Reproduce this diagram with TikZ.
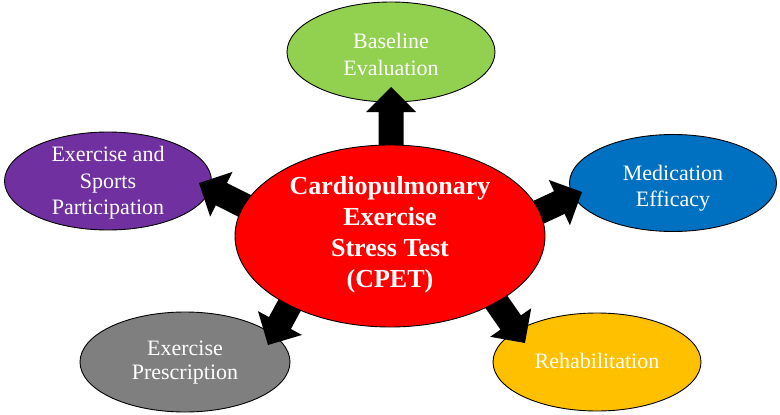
\documentclass[tikz,border=0pt]{standalone}
\usepackage{fontspec}
\setmainfont{Liberation Serif}
\usetikzlibrary{shapes.geometric,calc}
\definecolor{cgreen}{HTML}{92D050}
\definecolor{cpurple}{HTML}{7030A0}
\definecolor{cblue}{HTML}{0070C0}
\definecolor{cgray}{HTML}{7F7F7F}
\definecolor{cyellow}{HTML}{FFC000}
\definecolor{cred}{HTML}{FF0000}
\newcommand\cpetarrow[3]{%
  \path ($(#2)!25pt!(#1)$) coordinate (#3b);
  \fill[black] ($(#1)!12.5pt!90:(#2)$) -- ($(#3b)!12.5pt!90:(#2)$) -- ($(#3b)!25pt!90:(#2)$) -- (#2)
    -- ($(#3b)!25pt!-90:(#2)$) -- ($(#3b)!12.5pt!-90:(#2)$) -- ($(#1)!12.5pt!-90:(#2)$) -- cycle;}
\begin{document}
\begin{tikzpicture}[x=1pt,y=-1pt,
  bubble/.style={ellipse,draw=black,line width=0.9pt,inner sep=0pt},
  small/.style={text=white,align=center,font=\fontsize{22}{#1}\selectfont},
  big/.style={text=white,align=center,font=\bfseries\fontsize{26}{31}\selectfont}]
\useasboundingbox[fill=white] (0,0) rectangle (780,415);
% outer ellipses
\node[bubble,fill=cgreen,minimum width=208pt,minimum height=100pt] (base) at (391,52) {};
\node[bubble,fill=cpurple,minimum width=207pt,minimum height=98pt] (sport) at (108,181) {};
\node[bubble,fill=cblue,minimum width=207pt,minimum height=97pt] (med) at (673,183) {};
\node[bubble,fill=cgray,minimum width=210pt,minimum height=100pt] (presc) at (185,362) {};
\node[bubble,fill=cyellow,minimum width=208pt,minimum height=98pt] (rehab) at (597,362) {};
% arrow coordinates
\coordinate (sA) at (391,190); \coordinate (tA) at (391,87);
\coordinate (sB) at (270.5,218.8); \coordinate (tB) at (199,183);
\coordinate (sC) at (509.5,225.8); \coordinate (tC) at (582,192);
\coordinate (sD) at (306,275); \coordinate (tD) at (268,345);
\coordinate (sE) at (479,277); \coordinate (tE) at (525,343);
\cpetarrow{sA}{tA}{a}
\cpetarrow{sB}{tB}{b}
\cpetarrow{sC}{tC}{c}
\cpetarrow{sD}{tD}{d}
\cpetarrow{sE}{tE}{e}
% central ellipse
\node[bubble,fill=cred,minimum width=310pt,minimum height=182pt] (cpet) at (390,236) {};
% texts
\node[big] (cpett) at (390,235) {Cardiopulmonary\\Exercise\\Stress Test\\(CPET)};
\node[small=27] (baset) at (391,54) {Baseline\\Evaluation};
\node[small=26.5] (sportt) at (108,183) {Exercise and\\Sports\\Participation};
\node[small=26] (medt) at (673,188) {Medication\\Efficacy};
\node[small=24] (presct) at (185,363) {Exercise\\Prescription};
\node[small=24] (rehabt) at (597,361) {Rehabilitation};
\end{tikzpicture}
\end{document}
